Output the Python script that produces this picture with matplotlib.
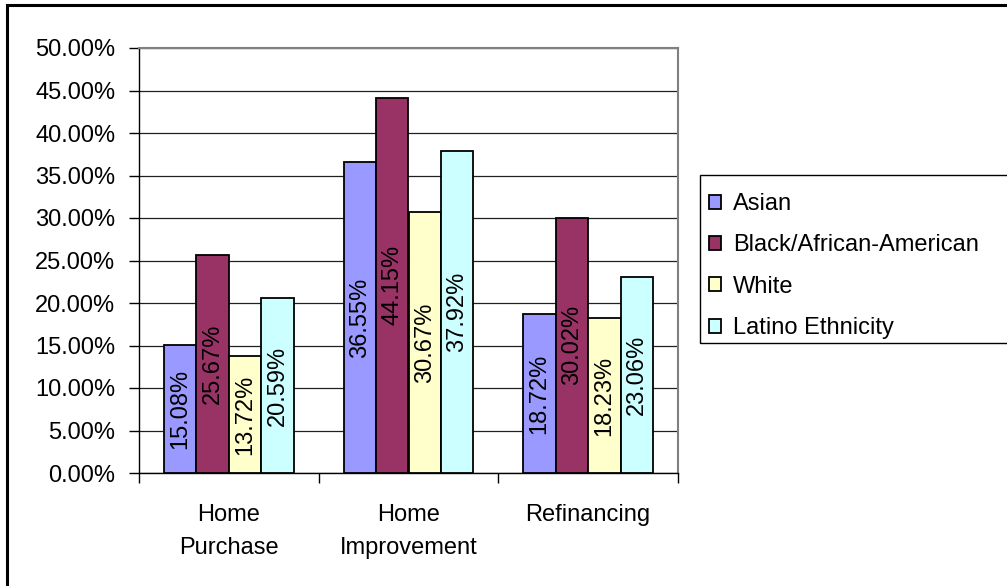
"""Grouped bar chart of loan denial rates by purpose and ethnicity."""

import matplotlib.pyplot as plt
import numpy as np
from matplotlib.patches import Rectangle
from matplotlib.ticker import FixedLocator, PercentFormatter


LOAN_TYPES = ["Home\nPurchase", "Home\nImprovement", "Refinancing"]
GROUPS = ["Asian", "Black/African-American", "White", "Latino Ethnicity"]
ASIAN = [15.08, 36.55, 18.72]
BLACK = [25.67, 44.15, 30.02]
WHITE = [13.72, 30.67, 18.23]
LATINO = [20.59, 37.92, 23.06]
Y_TICKS = np.arange(0, 50.01, 5)

COLORS = ["#9999FF", "#993366", "#FFFFCC", "#CCFFFF"]
FONT_SIZE = 17

plt.rcParams["font.family"] = ["Liberation Sans", "DejaVu Sans"]
plt.rcParams["font.size"] = FONT_SIZE

W, H = 1007, 586
fig = plt.figure(figsize=(W / 100, H / 100), dpi=100)
ax = fig.add_axes([139 / W, 1 - 473 / H, (678 - 139) / W, (473 - 48) / H])

series = [ASIAN, BLACK, WHITE, LATINO]
x = np.arange(len(LOAN_TYPES))
bar_w = 0.1806
bars = []
for i, (name, values, color) in enumerate(zip(GROUPS, series, COLORS)):
    offset = (i - 1.5) * bar_w
    cont = ax.bar(x + offset, values, bar_w, color=color, edgecolor="black",
                  linewidth=1.3, label=name, zorder=3)
    bars.append(cont)
    for rect, v in zip(cont, values):
        ax.text(rect.get_x() + rect.get_width() / 2, v / 2, f"{v:.2f}%",
                rotation=90, ha="center", va="center", color="black",
                fontsize=FONT_SIZE, zorder=4)

ax.set_xlim(-0.5, 2.5)
ax.set_ylim(0, 50)
ax.set_yticks(Y_TICKS)
ax.yaxis.set_major_formatter(PercentFormatter(decimals=2))
ax.yaxis.grid(True, color="#202020", linewidth=0.9, zorder=0)
ax.tick_params(axis="y", direction="out", length=7, width=1, pad=10,
               labelsize=FONT_SIZE)

# category boundaries carry tick marks, the names sit on minor ticks
ax.xaxis.set_major_locator(FixedLocator([-0.5, 0.5, 1.5, 2.5]))
ax.xaxis.set_minor_locator(FixedLocator(x))
ax.set_xticklabels([], minor=False)
ax.set_xticklabels(LOAN_TYPES, minor=True, linespacing=1.65)
ax.tick_params(axis="x", which="major", direction="out", length=7, width=1)
ax.tick_params(axis="x", which="minor", length=0, pad=22, labelsize=FONT_SIZE)

for side in ("top", "right"):
    ax.spines[side].set_color("#808080")
    ax.spines[side].set_linewidth(1.5)
for side in ("left", "bottom"):
    ax.spines[side].set_color("black")
    ax.spines[side].set_linewidth(1)

# outer chart border and legend box
fig.patches.append(Rectangle((7 / W, -0.1), 1.2, 1 - 5 / H + 0.1,
                             transform=fig.transFigure, fill=False,
                             edgecolor="black", linewidth=2.2, zorder=0))
fig.patches.append(Rectangle((700 / W, 1 - 343 / H), 0.5, (343 - 175) / H,
                             transform=fig.transFigure, fill=False,
                             edgecolor="black", linewidth=1, zorder=0))

fig.legend(handles=bars, labels=GROUPS, loc="upper left",
           bbox_to_anchor=(709 / W, 1 - 193 / H), frameon=False,
           borderpad=0, borderaxespad=0, handlelength=0.52, handleheight=0.52,
           handletextpad=0.5, labelspacing=0.82, fontsize=FONT_SIZE)

fig.savefig("out.png", dpi=100)
